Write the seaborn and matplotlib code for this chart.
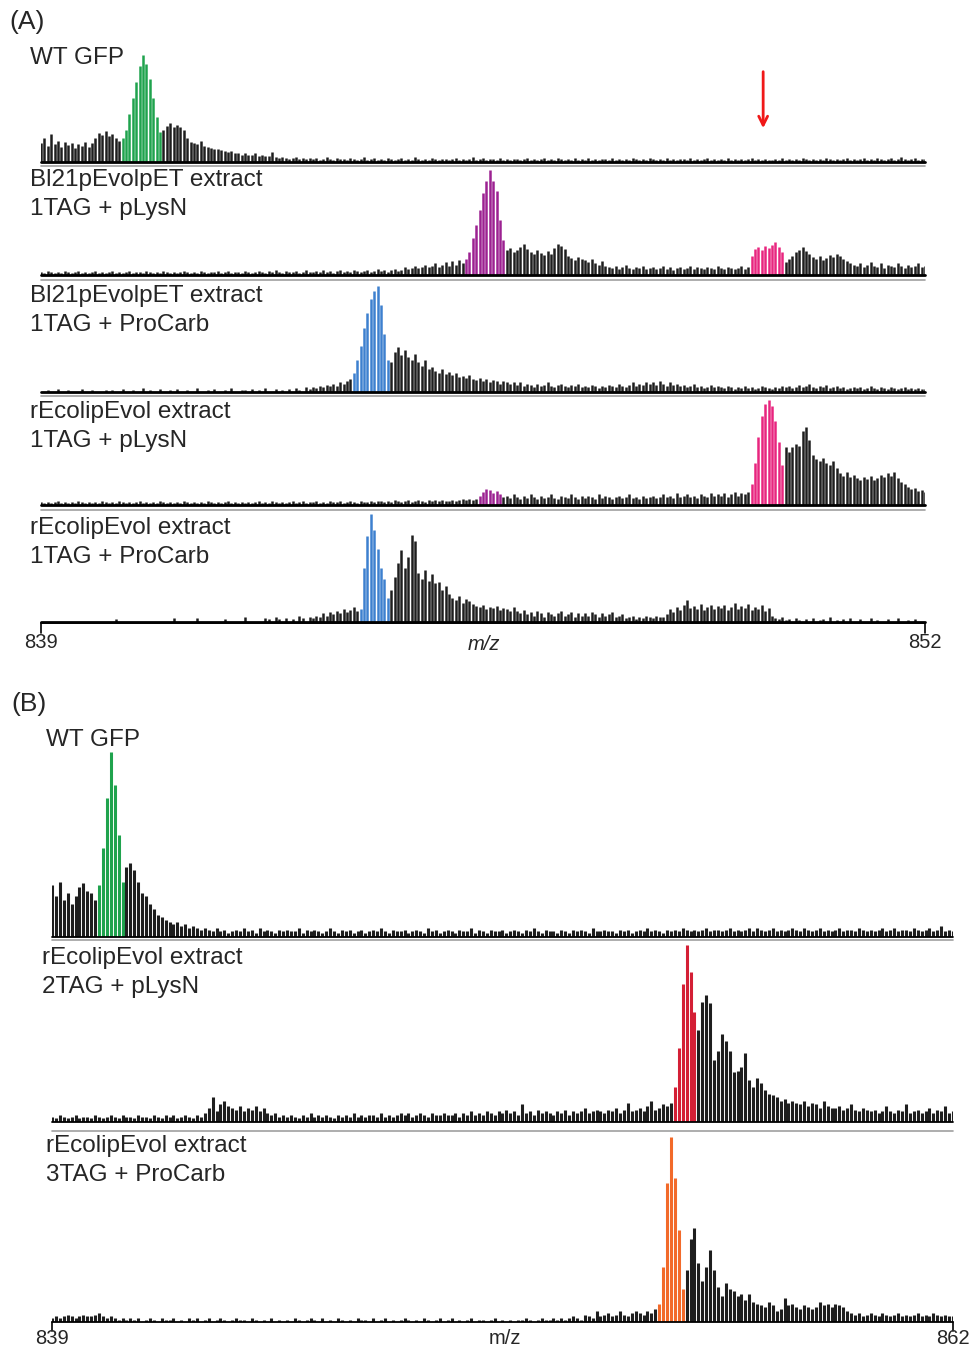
import numpy as np
import matplotlib
matplotlib.use("Agg")
import matplotlib.pyplot as plt
import seaborn as sns

# ---- panel A: m/z 839-852, one height (% of main peak) every 0.05 m/z, one row per m/z ----
a_mz_start, a_mz_end, a_step = 839.0, 852.0, 0.05

a1_wt_gfp = [
    18, 22, 15, 26, 17, 20, 14, 19, 16, 18, 13, 17, 15, 19, 14, 18, 22, 27, 25, 29,
    24, 26, 22, 20, 22, 30, 45, 60, 75, 90, 100, 92, 78, 60, 42, 28, 30, 34, 36, 33,
    35, 33, 30, 22, 19, 18, 17, 20, 15, 14, 13, 12, 12, 11, 10, 9, 10, 8, 8, 7,
    8, 7, 7, 8, 6, 7, 6, 6, 9, 5, 4, 5, 4, 3, 4, 5, 3, 4, 3, 4,
    3, 4, 2, 3, 5, 3, 2, 4, 3, 3, 2, 4, 3, 2, 3, 5, 2, 3, 4, 2,
    3, 2, 4, 3, 2, 3, 4, 2, 3, 2, 5, 3, 2, 3, 2, 4, 3, 2, 3, 3,
    2, 3, 4, 2, 3, 2, 3, 5, 2, 3, 4, 2, 3, 3, 2, 4, 2, 3, 2, 3,
    3, 2, 3, 4, 2, 3, 2, 3, 4, 2, 3, 2, 4, 3, 2, 3, 2, 4, 2, 3,
    2, 4, 2, 3, 2, 3, 3, 2, 4, 2, 3, 2, 3, 2, 4, 3, 2, 3, 2, 4,
    3, 2, 3, 2, 4, 2, 3, 2, 3, 3, 2, 4, 2, 3, 2, 3, 4, 2, 3, 2,
    3, 2, 4, 2, 3, 2, 3, 2, 3, 4, 2, 3, 2, 3, 2, 2, 3, 2, 4, 2,
    3, 2, 3, 2, 4, 3, 2, 3, 2, 3, 2, 4, 3, 2, 3, 2, 3, 4, 2, 3,
    2, 3, 4, 2, 3, 2, 4, 3, 2, 3, 4, 2, 3, 5, 3, 2, 3, 4, 2, 3,
    3]

a2_bl21_plysn = [
    3, 2, 4, 3, 2, 3, 2, 4, 3, 2, 3, 4, 2, 3, 2, 3, 4, 2, 3, 2,
    3, 4, 2, 3, 2, 3, 4, 2, 3, 3, 2, 4, 3, 2, 3, 2, 4, 3, 2, 3,
    2, 3, 4, 3, 2, 3, 2, 4, 3, 2, 3, 3, 4, 2, 3, 4, 2, 3, 3, 2,
    4, 3, 2, 3, 4, 3, 2, 4, 3, 5, 3, 2, 4, 3, 3, 4, 2, 3, 5, 3,
    3, 4, 3, 5, 3, 4, 2, 4, 5, 3, 4, 3, 5, 4, 3, 4, 5, 3, 4, 6,
    4, 5, 3, 5, 6, 4, 5, 8, 6, 7, 9, 7, 8, 10, 8, 9, 11, 8, 10, 12,
    9, 13, 10, 14, 11, 15, 22, 35, 48, 62, 78, 90, 100, 90, 80, 52, 33, 24, 26, 22,
    24, 27, 30, 25, 22, 20, 24, 21, 19, 23, 20, 26, 30, 28, 25, 18, 16, 14, 17, 15,
    14, 12, 15, 11, 10, 13, 9, 8, 7, 9, 6, 8, 10, 7, 6, 8, 7, 9, 6, 7,
    8, 6, 7, 9, 6, 8, 5, 7, 8, 6, 7, 9, 6, 8, 7, 6, 8, 7, 6, 9,
    7, 6, 8, 7, 6, 7, 9, 6, 8, 18, 25, 27, 24, 28, 26, 29, 31, 27, 22, 12,
    15, 18, 22, 24, 27, 23, 20, 17, 15, 18, 14, 16, 19, 17, 20, 18, 15, 13, 11, 10,
    9, 11, 8, 10, 12, 9, 8, 11, 7, 10, 9, 8, 11, 9, 7, 10, 8, 9, 11, 8,
    9]

a3_bl21_procarb = [
    0, 0, 2, 0, 0, 3, 0, 0, 2, 0, 0, 0, 3, 0, 0, 2, 0, 0, 0, 2,
    0, 2, 0, 0, 3, 0, 0, 2, 0, 0, 4, 0, 2, 0, 0, 3, 0, 0, 2, 0,
    3, 0, 0, 2, 0, 0, 4, 0, 0, 2, 0, 3, 0, 0, 2, 0, 4, 0, 0, 2,
    2, 0, 3, 0, 2, 0, 4, 0, 0, 3, 0, 2, 0, 3, 0, 4, 2, 0, 5, 3,
    5, 4, 6, 5, 7, 6, 8, 6, 9, 8, 10, 12, 18, 30, 43, 60, 75, 88, 95, 100,
    82, 55, 30, 28, 38, 42, 35, 40, 33, 30, 36, 28, 25, 30, 22, 24, 20, 18, 22, 17,
    19, 16, 18, 14, 15, 13, 16, 12, 11, 13, 10, 12, 9, 11, 10, 8, 10, 9, 8, 9,
    7, 9, 6, 8, 7, 5, 8, 6, 7, 9, 6, 5, 7, 8, 6, 5, 7, 6, 8, 5,
    6, 5, 7, 6, 4, 6, 5, 7, 6, 5, 8, 6, 5, 7, 9, 6, 8, 7, 9, 8,
    9, 7, 10, 8, 6, 9, 7, 8, 6, 7, 5, 6, 8, 5, 6, 4, 5, 7, 5, 6,
    5, 4, 6, 5, 3, 5, 4, 6, 4, 5, 3, 4, 6, 5, 4, 3, 5, 4, 6, 5,
    6, 4, 5, 7, 5, 6, 8, 5, 4, 6, 5, 7, 4, 5, 6, 4, 5, 3, 4, 5,
    4, 5, 3, 4, 6, 4, 3, 5, 4, 3, 5, 4, 3, 4, 5, 3, 4, 3, 4, 3,
    3]

a4_recoli_plysn = [
    3, 2, 3, 2, 3, 4, 2, 3, 2, 3, 2, 4, 3, 2, 3, 2, 3, 2, 4, 3,
    2, 3, 2, 4, 3, 2, 3, 2, 3, 4, 2, 3, 2, 3, 2, 4, 3, 2, 3, 2,
    3, 2, 4, 3, 2, 3, 2, 3, 2, 4, 3, 2, 3, 2, 3, 4, 2, 3, 2, 3,
    2, 3, 2, 3, 4, 2, 3, 2, 4, 3, 2, 3, 2, 3, 4, 2, 3, 4, 2, 3,
    3, 4, 2, 3, 2, 4, 3, 3, 4, 2, 3, 4, 3, 2, 4, 3, 3, 4, 3, 4,
    4, 3, 4, 3, 5, 4, 3, 4, 5, 3, 4, 5, 4, 3, 5, 4, 5, 4, 5, 4,
    4, 5, 4, 5, 6, 5, 6, 5, 6, 9, 12, 15, 14, 11, 13, 10, 8, 9, 7, 10,
    8, 6, 9, 7, 10, 8, 6, 9, 7, 8, 10, 7, 6, 9, 8, 7, 10, 8, 6, 9,
    7, 9, 8, 6, 10, 7, 9, 8, 6, 8, 9, 7, 8, 10, 7, 8, 6, 9, 7, 8,
    9, 7, 8, 10, 8, 9, 7, 11, 8, 9, 10, 8, 9, 7, 10, 9, 8, 11, 9, 10,
    9, 11, 8, 10, 12, 9, 11, 10, 12, 20, 40, 65, 85, 96, 100, 94, 80, 60, 38, 55,
    50, 55, 58, 56, 70, 74, 62, 48, 44, 42, 45, 40, 38, 42, 35, 30, 28, 31, 27, 29,
    26, 24, 27, 25, 28, 24, 26, 29, 27, 30, 28, 31, 26, 22, 20, 17, 15, 16, 13, 14,
    12]

a5_recoli_procarb = [
    0, 0, 0, 0, 0, 0, 0, 0, 0, 0, 0, 0, 0, 0, 0, 0, 0, 0, 0, 0,
    0, 0, 3, 0, 0, 0, 0, 0, 0, 0, 0, 0, 0, 0, 0, 0, 0, 0, 0, 4,
    0, 0, 0, 0, 0, 0, 4, 0, 0, 0, 0, 0, 0, 0, 3, 0, 0, 0, 0, 0,
    5, 0, 0, 0, 0, 0, 4, 3, 0, 5, 3, 0, 4, 0, 3, 0, 6, 4, 0, 5,
    4, 6, 5, 8, 6, 9, 7, 10, 8, 12, 9, 11, 14, 10, 12, 50, 80, 100, 85, 68,
    50, 40, 22, 30, 42, 55, 67, 50, 60, 81, 75, 45, 40, 48, 38, 44, 36, 37, 30, 33,
    26, 22, 20, 24, 18, 21, 19, 17, 15, 14, 16, 12, 14, 13, 15, 11, 13, 12, 10, 14,
    10, 8, 11, 7, 9, 6, 10, 8, 5, 9, 7, 6, 8, 10, 6, 7, 9, 5, 8, 6,
    8, 6, 9, 7, 5, 8, 6, 7, 9, 5, 6, 7, 4, 5, 6, 3, 5, 4, 6, 5,
    4, 6, 5, 5, 7, 12, 9, 14, 11, 16, 20, 13, 15, 12, 17, 11, 14, 16, 12, 15,
    13, 16, 11, 14, 18, 12, 15, 13, 17, 11, 14, 12, 16, 10, 13, 6, 4, 3, 5, 2,
    3, 0, 4, 2, 0, 3, 0, 4, 0, 2, 3, 0, 5, 0, 2, 0, 3, 0, 4, 0,
    0, 3, 0, 0, 4, 0, 2, 0, 0, 3, 0, 0, 4, 0, 0, 2, 0, 3, 0, 0,
    0]

# ---- panel B: m/z 839-862, one height every 0.1 m/z, one row per m/z ----
b_mz_start, b_mz_end, b_step = 839.0, 862.0, 0.1

b1_wt_gfp = [
    28, 22, 30, 20, 24, 18, 22, 27, 29, 25,
    24, 20, 28, 48, 75, 100, 82, 55, 30, 38,
    40, 36, 30, 24, 22, 18, 15, 12, 11, 9,
    8, 7, 8, 6, 7, 5, 6, 5, 4, 5,
    4, 3, 5, 3, 4, 2, 3, 4, 3, 5,
    3, 4, 2, 5, 3, 4, 3, 2, 4, 3,
    4, 3, 3, 5, 2, 4, 3, 4, 3, 2,
    3, 5, 3, 2, 4, 3, 4, 2, 3, 4,
    2, 3, 4, 3, 5, 3, 2, 4, 3, 3,
    4, 2, 3, 4, 3, 2, 5, 3, 4, 2,
    3, 4, 3, 2, 4, 3, 3, 5, 2, 4,
    3, 2, 4, 3, 3, 4, 2, 3, 4, 3,
    2, 4, 3, 5, 3, 2, 4, 3, 3, 2,
    4, 3, 2, 4, 3, 4, 3, 2, 5, 3,
    3, 4, 3, 3, 2, 4, 3, 4, 2, 3,
    4, 3, 5, 3, 4, 3, 2, 4, 3, 4,
    3, 5, 4, 3, 4, 3, 4, 5, 3, 4,
    4, 3, 4, 5, 3, 4, 3, 4, 5, 3,
    5, 4, 3, 4, 5, 3, 4, 3, 4, 5,
    4, 3, 5, 4, 3, 4, 5, 3, 4, 3,
    4, 5, 3, 4, 4, 3, 5, 4, 3, 4,
    3, 4, 5, 3, 4, 5, 3, 4, 4, 3,
    5, 4, 3, 4, 5, 3, 4, 6, 3, 4,
    3]

b2_recoli_2tag = [
    3, 2, 4, 3, 2, 3, 4, 2, 3, 3,
    2, 4, 3, 2, 3, 4, 3, 2, 4, 3,
    3, 2, 4, 3, 3, 2, 4, 3, 2, 4,
    3, 4, 2, 3, 4, 3, 2, 4, 3, 5,
    8, 14, 6, 10, 12, 9, 8, 7, 9, 6,
    8, 7, 9, 6, 8, 5, 4, 5, 3, 4,
    3, 4, 3, 2, 4, 3, 5, 3, 4, 3,
    4, 3, 2, 4, 3, 4, 3, 5, 3, 4,
    3, 4, 4, 3, 5, 3, 4, 3, 4, 5,
    4, 5, 3, 4, 5, 4, 3, 5, 4, 4,
    5, 4, 4, 5, 3, 5, 4, 6, 4, 5,
    4, 6, 5, 4, 6, 5, 7, 5, 6, 4,
    10, 5, 6, 4, 7, 5, 6, 5, 4, 6,
    5, 7, 4, 6, 5, 6, 8, 5, 6, 7,
    6, 5, 7, 6, 8, 5, 7, 11, 6, 7,
    8, 6, 9, 12, 7, 8, 10, 9, 11, 20,
    42, 78, 100, 85, 62, 52, 68, 72, 67, 35,
    40, 50, 46, 40, 28, 29, 31, 39, 24, 20,
    25, 22, 18, 16, 15, 14, 12, 13, 11, 12,
    11, 10, 12, 9, 11, 10, 8, 12, 9, 8,
    8, 9, 7, 8, 10, 7, 6, 8, 7, 6,
    7, 5, 6, 9, 6, 5, 7, 6, 10, 5,
    6, 7, 5, 6, 8, 5, 7, 6, 9, 5,
    6]

b3_recoli_3tag = [
    2, 3, 2, 3, 4, 3, 2, 3, 4, 3,
    3, 4, 5, 3, 2, 3, 2, 1, 2, 1,
    2, 1, 2, 0, 1, 2, 1, 0, 2, 1,
    1, 2, 0, 1, 0, 2, 1, 2, 0, 1,
    2, 0, 1, 2, 1, 0, 1, 2, 1, 1,
    0, 2, 1, 0, 1, 0, 2, 0, 1, 0,
    1, 0, 2, 1, 0, 1, 2, 1, 0, 2,
    0, 1, 0, 2, 1, 0, 1, 0, 2, 1,
    1, 0, 2, 0, 1, 2, 0, 1, 0, 1,
    2, 1, 0, 1, 0, 2, 1, 0, 1, 2,
    0, 1, 2, 0, 1, 0, 1, 2, 0, 1,
    1, 0, 1, 2, 0, 1, 0, 1, 0, 1,
    1, 2, 1, 0, 1, 2, 1, 1, 2, 1,
    2, 1, 2, 3, 2, 1, 4, 3, 2, 6,
    3, 4, 5, 3, 4, 6, 4, 3, 5, 6,
    5, 4, 6, 5, 7, 10, 30, 75, 100, 78,
    50, 18, 28, 45, 51, 32, 22, 30, 39, 28,
    19, 14, 21, 18, 17, 14, 15, 12, 15, 11,
    10, 9, 8, 11, 9, 6, 7, 13, 9, 10,
    8, 7, 9, 8, 7, 8, 11, 9, 10, 8,
    10, 9, 8, 6, 5, 4, 5, 3, 4, 5,
    4, 3, 5, 4, 3, 4, 5, 3, 4, 3,
    4, 5, 3, 4, 3, 5, 4, 3, 4, 3,
    3]

# highlighted isotope clusters (m/z from, m/z to, colour)
a1_marks = [(840.18, 840.77, '#1fa34d')]
a2_marks = [(845.22, 845.82, '#9c2191'), (849.43, 849.92, '#e8257f')]
a3_marks = [(843.58, 844.12, '#3d80cf')]
a4_marks = [(845.43, 845.77, '#9c2191'), (849.43, 849.93, '#e8257f')]
a5_marks = [(843.68, 844.12, '#3d80cf')]
b1_marks = [(840.15, 840.85, '#1fa34d')]
b2_marks = [(854.85, 855.45, '#d41f35')]
b3_marks = [(854.45, 855.15, '#f26a2a')]

a_labels = [['WT GFP'], ['Bl21pEvolpET extract', '1TAG + pLysN'], ['Bl21pEvolpET extract', '1TAG + ProCarb'],
            ['rEcolipEvol extract', '1TAG + pLysN'], ['rEcolipEvol extract', '1TAG + ProCarb']]
b_labels = [['WT GFP'], ['rEcolipEvol extract', '2TAG + pLysN'], ['rEcolipEvol extract', '3TAG + ProCarb']]

for s in [a1_wt_gfp, a2_bl21_plysn, a3_bl21_procarb, a4_recoli_plysn, a5_recoli_procarb]:
    assert len(s) == 261, len(s)
for s in [b1_wt_gfp, b2_recoli_2tag, b3_recoli_3tag]:
    assert len(s) == 231, len(s)

sns.set_theme(style="white")
plt.rcParams['font.family'] = ['Liberation Sans', 'DejaVu Sans']

W, H = 970, 1347
fig = plt.figure(figsize=(W / 100, H / 100), dpi=100)


def fig_y(py):
    return 1 - py / H


def hline(x0, x1, py, color, lw):
    fig.add_artist(plt.Line2D([x0 / W, x1 / W], [fig_y(py)] * 2, color=color, lw=lw))


def put_label(x, y, lines, size=17.5, gap=29):
    for k, line in enumerate(lines):
        fig.text(x / W, fig_y(y + k * gap), line, fontsize=size, ha='left', va='center')


def draw_trace(x0, x1, top, base, apex, mz0, mz1, step, heights, marks, lw, base_lw):
    ax = fig.add_axes([x0 / W, fig_y(base), (x1 - x0) / W, (base - top) / H])
    h = np.asarray(heights, dtype=float)
    mz = mz0 + step * np.arange(len(h))
    colored = np.zeros(len(h), dtype=bool)
    for lo, hi, col in marks:
        sel = (mz >= lo) & (mz <= hi)
        colored |= sel
        ax.vlines(mz[sel], 0, h[sel], color=col, lw=lw)
    ax.vlines(mz[~colored], 0, h[~colored], color='#1e1e1e', lw=lw)
    ax.axhline(0, color='black', lw=base_lw, clip_on=False)
    ax.set_xlim(mz0, mz1)
    ax.set_ylim(0, 100 * (base - top) / (base - apex))
    ax.set_axis_off()
    return ax


# ---- panel A ----
ax0, ax1x = 41, 925
a_strips = [(40, 162, 55), (166, 275, 170), (281, 392, 286), (397, 505, 400), (511, 622, 514)]
a_data = [a1_wt_gfp, a2_bl21_plysn, a3_bl21_procarb, a4_recoli_plysn, a5_recoli_procarb]
a_marks = [a1_marks, a2_marks, a3_marks, a4_marks, a5_marks]
a_text_y = [58, 180, 296, 412, 528]
a_axes = []
for (top, base, apex), data, marks, lab, ty in zip(a_strips, a_data, a_marks, a_labels, a_text_y):
    ax = draw_trace(ax0, ax1x, top, base, apex, a_mz_start, a_mz_end, a_step, data, marks, 1.8, 2.0)
    a_axes.append(ax)
    put_label(30, ty, lab)
for py in [166, 280, 396, 510]:
    hline(ax0, ax1x, py, '#a0a0a0', 1.2)

# red arrow over the WT GFP trace
a_axes[0].annotate('', xy=(849.62, 29), xytext=(849.62, 87),
                   arrowprops=dict(arrowstyle='->', color='#f01818', lw=2, mutation_scale=16))

# panel A x-axis
hline(ax0, ax1x, 623, 'black', 1.2)
for px in (ax0, ax1x):
    fig.add_artist(plt.Line2D([px / W] * 2, [fig_y(623), fig_y(633)], color='black', lw=1.2))
fig.text(ax0 / W, fig_y(643), '839', fontsize=14.5, ha='center', va='center')
fig.text(ax1x / W, fig_y(643), '852', fontsize=14.5, ha='center', va='center')
fig.text(484 / W, fig_y(645), 'm/z', fontsize=14.5, ha='center', va='center', style='italic')
fig.text(9 / W, fig_y(22), '(A)', fontsize=19, ha='left', va='center')

# ---- panel B ----
bx0, bx1 = 52, 953
b_strips = [(745, 937, 752), (941, 1122, 945), (1132, 1322, 1137)]
b_data = [b1_wt_gfp, b2_recoli_2tag, b3_recoli_3tag]
b_marks_all = [b1_marks, b2_marks, b3_marks]
b_text = [(46, 740), (42, 958), (46, 1146)]
for (top, base, apex), data, marks, lab, (tx, ty) in zip(b_strips, b_data, b_marks_all, b_labels, b_text):
    draw_trace(bx0, bx1, top, base, apex, b_mz_start, b_mz_end, b_step, data, marks, 2.2, 1.3)
    put_label(tx, ty, lab)
for py in [940, 1131]:
    hline(bx0, bx1, py, '#a0a0a0', 1.2)

for px in (bx0, bx1):
    fig.add_artist(plt.Line2D([px / W] * 2, [fig_y(1322), fig_y(1331)], color='black', lw=1.2))
fig.text(bx0 / W, fig_y(1338), '839', fontsize=14.5, ha='center', va='center')
fig.text(bx1 / W, fig_y(1338), '862', fontsize=14.5, ha='center', va='center')
fig.text(505 / W, fig_y(1338), 'm/z', fontsize=14.5, ha='center', va='center')
fig.text(11 / W, fig_y(704), '(B)', fontsize=19, ha='left', va='center')

fig.savefig('out.png', dpi=100)
